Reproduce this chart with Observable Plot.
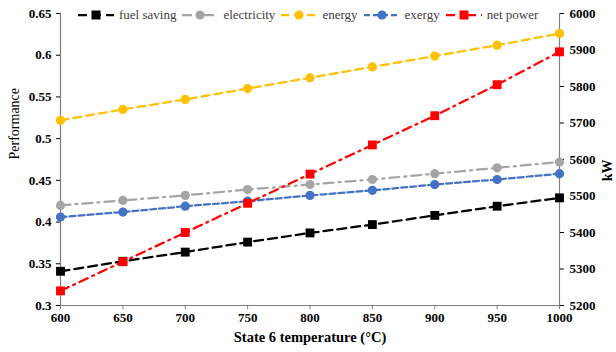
<!DOCTYPE html>
<html>
<head>
<meta charset="utf-8">
<script src="https://cdn.jsdelivr.net/npm/d3@7"></script>
<script src="https://cdn.jsdelivr.net/npm/@observablehq/plot@0.6"></script>
<style>
  html, body { margin: 0; padding: 0; background: #fff; }
  #wrap { position: relative; width: 616px; height: 352px; font-family: "Liberation Serif", "Times New Roman", serif; }
  #legend { position: absolute; top: 7px; left: 78px; display: flex; align-items: center; font-family: "Liberation Serif", "Times New Roman", "DejaVu Serif", serif; font-size: 13px; color: #404040; white-space: nowrap; }
  .item { display: flex; align-items: center; margin-right: 6px; }
  .item svg { margin-right: 5px; }
</style>
</head>
<body>
<div id="wrap"><div id="legend"></div></div>
<script>
const temps = [600, 650, 700, 750, 800, 850, 900, 950, 1000];
const fuelSaving = [0.341, 0.353, 0.364, 0.376, 0.387, 0.397, 0.408, 0.419, 0.429];
const electricity = [0.420, 0.426, 0.432, 0.439, 0.445, 0.451, 0.458, 0.465, 0.472];
const energy = [0.522, 0.535, 0.547, 0.560, 0.573, 0.586, 0.599, 0.612, 0.626];
const exergy = [0.406, 0.412, 0.419, 0.425, 0.432, 0.438, 0.445, 0.451, 0.458];
const netPower = [5240, 5320, 5400, 5480, 5560, 5640, 5720, 5805, 5895];

const xTicks = [600, 650, 700, 750, 800, 850, 900, 950, 1000];
const yTicks = [0.3, 0.35, 0.4, 0.45, 0.5, 0.55, 0.6, 0.65];
const kwTicks = [5200, 5300, 5400, 5500, 5600, 5700, 5800, 5900, 6000];

const yDomain = [0.3, 0.65];
const kwDomain = [5200, 6000];
const kwToY = v => yDomain[0] + (v - kwDomain[0]) / (kwDomain[1] - kwDomain[0]) * (yDomain[1] - yDomain[0]);
const yToKw = v => kwDomain[0] + (v - yDomain[0]) / (yDomain[1] - yDomain[0]) * (kwDomain[1] - kwDomain[0]);

const series = [
  {name: "fuel saving", values: fuelSaving, color: "#000000", dash: "9,5", symbol: "square", right: false},
  {name: "electricity", values: electricity, color: "#a5a5a5", dash: "10,5,2,5", symbol: "circle", right: false},
  {name: "energy", values: energy, color: "#ffc000", dash: "8,5", symbol: "circle", right: false},
  {name: "exergy", values: exergy, color: "#4472c4", dash: "6,3", symbol: "circle", right: false},
  {name: "net power", values: netPower, color: "#ff0000", dash: "9,5,2,5", symbol: "square", right: true}
];

const rows = s => temps.map((t, i) => ({t, v: s.right ? kwToY(s.values[i]) : s.values[i]}));

const marks = [];
for (const s of series) {
  marks.push(Plot.line(rows(s), {x: "t", y: "v", stroke: s.color, strokeWidth: 2.25, strokeDasharray: s.dash}));
}
for (const s of series) {
  marks.push(Plot.dot(rows(s), {x: "t", y: "v", fill: s.color, stroke: "none", symbol: s.symbol, r: s.symbol === "square" ? 5 : 4.6}));
}

const chart = Plot.plot({
  width: 616,
  height: 352,
  marginLeft: 60,
  marginRight: 57,
  marginTop: 13,
  marginBottom: 47,
  style: {fontFamily: "Liberation Serif, Times New Roman, serif", fontSize: "13px", fontWeight: "bold", color: "#000", background: "#fff"},
  x: {domain: [600, 1000]},
  y: {domain: yDomain},
  marks: [
    Plot.ruleX([600], {stroke: "#808080", strokeWidth: 1.2}),
    Plot.ruleX([1000], {stroke: "#808080", strokeWidth: 1.2}),
    Plot.ruleY([0.3], {stroke: "#808080", strokeWidth: 1.2}),
    Plot.axisX({ticks: xTicks, tickSize: 4, tickPadding: 3, stroke: "#808080", label: null, tickFormat: d => String(d), fill: "#000"}),
    Plot.axisY({ticks: yTicks, tickSize: 4, tickPadding: 5, anchor: "left", label: null, tickFormat: d => String(+d.toFixed(2))}),
    Plot.axisY({ticks: kwTicks.map(kwToY), tickSize: 4, tickPadding: 6, anchor: "right", label: null, tickFormat: d => String(Math.round(yToKw(d)))}),
    Plot.text(["State 6 temperature (°C)"], {frameAnchor: "bottom", dy: 36, text: d => d, fontSize: 14.5, fontWeight: "bold"}),
    Plot.text(["Performance"], {frameAnchor: "left", dx: -46, rotate: -90, text: d => d, fontSize: 14, fontWeight: "normal"}),
    Plot.text(["kW"], {frameAnchor: "right", dx: 48, rotate: -90, text: d => d, fontSize: 14, fontWeight: "bold"}),
    ...marks
  ]
});
document.getElementById("wrap").prepend(chart);

// legend
const legend = document.getElementById("legend");
for (const s of series) {
  const item = document.createElement("div");
  item.className = "item";
  const w = 36;
  const sym = s.symbol === "square"
    ? `<rect x="${w/2 - 4.5}" y="0.5" width="9" height="9" fill="${s.color}"/>`
    : `<circle cx="${w/2}" cy="5" r="4.6" fill="${s.color}"/>`;
  item.innerHTML = `<svg width="${w}" height="10"><line x1="0" x2="${w}" y1="5" y2="5" stroke="${s.color}" stroke-width="2.25" stroke-dasharray="${s.dash}"/>${sym}</svg><span>${s.name}</span>`;
  legend.appendChild(item);
}
</script>
</body>
</html>
